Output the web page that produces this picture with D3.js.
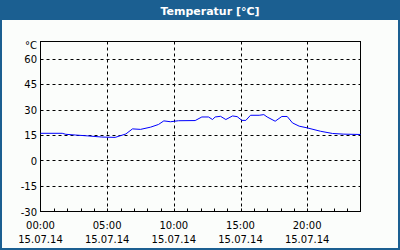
<!DOCTYPE html>
<html><head><meta charset="utf-8">
<script src="https://cdn.jsdelivr.net/npm/d3@7"></script>
<style>html,body{margin:0;padding:0;background:#fff;}svg{display:block;}</style>
</head><body>
<svg id="c" width="400" height="250"></svg>
<script>
const title = "Temperatur [°C]";
const unitLabel = "°C";
const hours = [0,1.63,1.9,2.6,3.5,4.6,5.6,6.4,6.9,7.5,8.25,8.85,9.25,9.75,10.35,11.6,12.1,12.6,12.9,13.1,13.5,13.9,14.4,14.75,15.1,15.4,15.75,16.4,16.75,17,17.6,18.1,18.5,18.9,19.4,20,21,21.9,22.75,24];
const temps = [16.0,16.0,15.4,15.0,14.5,13.8,13.6,15.6,18.6,18.3,19.6,21.2,23.3,22.8,23.4,23.5,25.6,25.6,24.1,25.6,26.0,24.1,26.2,25.8,23.6,23.6,26.6,26.6,27.0,25.6,23.1,25.9,25.9,22.1,20.2,19.2,17.2,15.9,15.5,15.3];
const yTicks = [-30,-15,0,15,30,45,60];
const xTicks = [0,5,10,15,20];
const xTimeLabels = ["00:00","05:00","10:00","15:00","20:00"];
const xDateLabels = ["15.07.14","15.07.14","15.07.14","15.07.14","15.07.14"];

const svg = d3.select("#c");
const W = 400, H = 250;
const font = "DejaVu Sans";
svg.append("rect").attr("width",W).attr("height",H).attr("fill","#1b5f91");
svg.append("rect").attr("x",2).attr("y",20).attr("width",W-4).attr("height",H-22).attr("fill","#fbfdfb");
svg.append("text").attr("x",210).attr("y",15).attr("text-anchor","middle")
  .attr("font-family",font).attr("font-weight","bold").attr("font-size",11).attr("fill","#fff").text(title);

const x = d3.scaleLinear().domain([0,24]).range([40.5,360.5]);
const y = d3.scaleLinear().domain([-30,70]).range([211.5,41.5]);

const g = svg.append("g");
// gridlines
g.selectAll(".hg").data(yTicks.filter(v=>v>-30)).join("line")
  .attr("x1",x(0)).attr("x2",x(24)).attr("y1",d=>Math.round(y(d))+0.5).attr("y2",d=>Math.round(y(d))+0.5)
  .attr("stroke","#000").attr("stroke-dasharray","3,3");
g.selectAll(".vg").data(xTicks.filter(v=>v>0)).join("line")
  .attr("y1",y(70)).attr("y2",y(-30)).attr("x1",d=>Math.round(x(d))+0.5).attr("x2",d=>Math.round(x(d))+0.5)
  .attr("stroke","#000").attr("stroke-dasharray","3,3");
// minor ticks
g.selectAll(".mt").data(d3.range(1,24)).join("line")
  .attr("x1",d=>Math.round(x(d))+0.5).attr("x2",d=>Math.round(x(d))+0.5)
  .attr("y1",y(-30)).attr("y2",y(-30)-3).attr("stroke","#000");
// frame
g.append("rect").attr("x",x(0)).attr("y",y(70)).attr("width",x(24)-x(0)).attr("height",y(-30)-y(70))
  .attr("fill","none").attr("stroke","#000");
// line
const line = d3.line().x((d,i)=>x(hours[i])).y(d=>y(d));
g.append("path").attr("d",line(temps)).attr("fill","none").attr("stroke","#0000ff").attr("stroke-width",1);
// y labels
g.selectAll(".yl").data(yTicks).join("text")
  .attr("x",37).attr("y",d=>y(d)+4).attr("text-anchor","end")
  .attr("font-family",font).attr("font-size",10).attr("fill","#000").text(d=>d);
g.append("text").attr("x",37).attr("y",49).attr("text-anchor","end")
  .attr("font-family",font).attr("font-size",10).attr("fill","#000").text(unitLabel);
// x labels
g.selectAll(".xl").data(xTicks).join("text")
  .attr("x",d=>x(d)).attr("y",229).attr("text-anchor","middle")
  .attr("font-family",font).attr("font-size",10).attr("fill","#000").text((d,i)=>xTimeLabels[i]);
g.selectAll(".xd").data(xTicks).join("text")
  .attr("x",d=>x(d)).attr("y",243).attr("text-anchor","middle")
  .attr("font-family",font).attr("font-size",10).attr("fill","#000").text((d,i)=>xDateLabels[i]);
</script>
</body></html>
